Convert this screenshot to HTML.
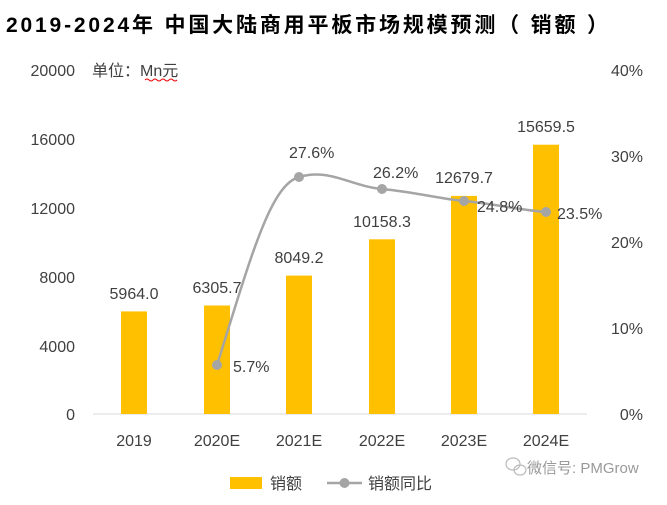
<!DOCTYPE html>
<html><head><meta charset="utf-8"><style>
body{margin:0;background:#fff}
svg text{font-family:"Liberation Sans","Noto Sans CJK SC",sans-serif}
</style></head><body>
<svg width="667" height="500" viewBox="0 0 667 500" xmlns="http://www.w3.org/2000/svg">
<rect width="667" height="500" fill="#fff"/>
<text x="6" y="32" font-size="21" font-weight="bold" fill="#000" textLength="602" lengthAdjust="spacing">2019-2024年 中国大陆商用平板市场规模预测（ 销额 ）</text>
<text x="92" y="76" font-size="16" fill="#404040">单位：Mn元</text>
<path d="M145 80 q2 -2 4 0 t4 0 t4 0 t4 0 t4 0 t4 0 t4 0 t4 0" stroke="#e00" fill="none" stroke-width="1"/>
<g font-size="16" fill="#404040" text-anchor="end">
<text x="75" y="76">20000</text><text x="75" y="145">16000</text><text x="75" y="214">12000</text>
<text x="75" y="283">8000</text><text x="75" y="352">4000</text><text x="75" y="420">0</text>
</g>
<g font-size="16" fill="#404040" text-anchor="end">
<text x="643" y="76">40%</text><text x="643" y="162">30%</text><text x="643" y="248">20%</text>
<text x="643" y="334">10%</text><text x="643" y="420">0%</text>
</g>
<line x1="93" y1="414" x2="587" y2="414" stroke="#d9d9d9"/>
<g fill="#ffc000">
<rect x="121" y="311.4" width="26" height="102.6"/>
<rect x="204" y="305.5" width="26" height="108.5"/>
<rect x="286" y="275.6" width="26" height="138.4"/>
<rect x="369" y="239.3" width="26" height="174.7"/>
<rect x="451" y="195.9" width="26" height="218.1"/>
<rect x="533" y="144.7" width="26" height="269.3"/>
</g>
<g font-size="16" fill="#404040" text-anchor="middle">
<text x="134" y="299">5964.0</text><text x="217" y="293">6305.7</text><text x="299" y="263">8049.2</text>
<text x="382" y="227">10158.3</text><text x="464" y="183">12679.7</text><text x="546" y="132">15659.5</text>
<text x="134" y="446">2019</text><text x="217" y="446">2020E</text><text x="299" y="446">2021E</text>
<text x="382" y="446">2022E</text><text x="464" y="446">2023E</text><text x="546" y="446">2024E</text>
</g>
<path d="M217 365 C250 260,270 185,299 177 C330 168,350 186,382 189 C415 192,440 199,464 201 C495 204,520 210,546 212" stroke="#a5a5a5" stroke-width="2.5" fill="none"/>
<g fill="#a5a5a5">
<circle cx="217" cy="365" r="5"/><circle cx="299" cy="177" r="5"/><circle cx="382" cy="189" r="5"/>
<circle cx="464" cy="201" r="5"/><circle cx="546" cy="212" r="5"/>
</g>
<g font-size="16" fill="#404040">
<text x="233" y="372">5.7%</text><text x="289" y="158">27.6%</text><text x="373" y="178">26.2%</text>
<text x="477" y="212">24.8%</text><text x="557" y="219">23.5%</text>
</g>
<rect x="230" y="477" width="32" height="12" fill="#ffc000"/>
<text x="270" y="489" font-size="16" fill="#404040">销额</text>
<line x1="327" y1="483" x2="362" y2="483" stroke="#a5a5a5" stroke-width="2.5"/>
<circle cx="344.5" cy="483" r="5" fill="#a5a5a5"/>
<text x="368" y="489" font-size="16" fill="#404040">销额同比</text>
<g stroke="#bbb" fill="none" stroke-width="1.2">
<ellipse cx="513" cy="464" rx="7" ry="6"/><ellipse cx="520" cy="470" rx="6" ry="5"/>
</g>
<text x="527" y="473" font-size="15" fill="#999">微信号: PMGrow</text>
</svg>
</body></html>
